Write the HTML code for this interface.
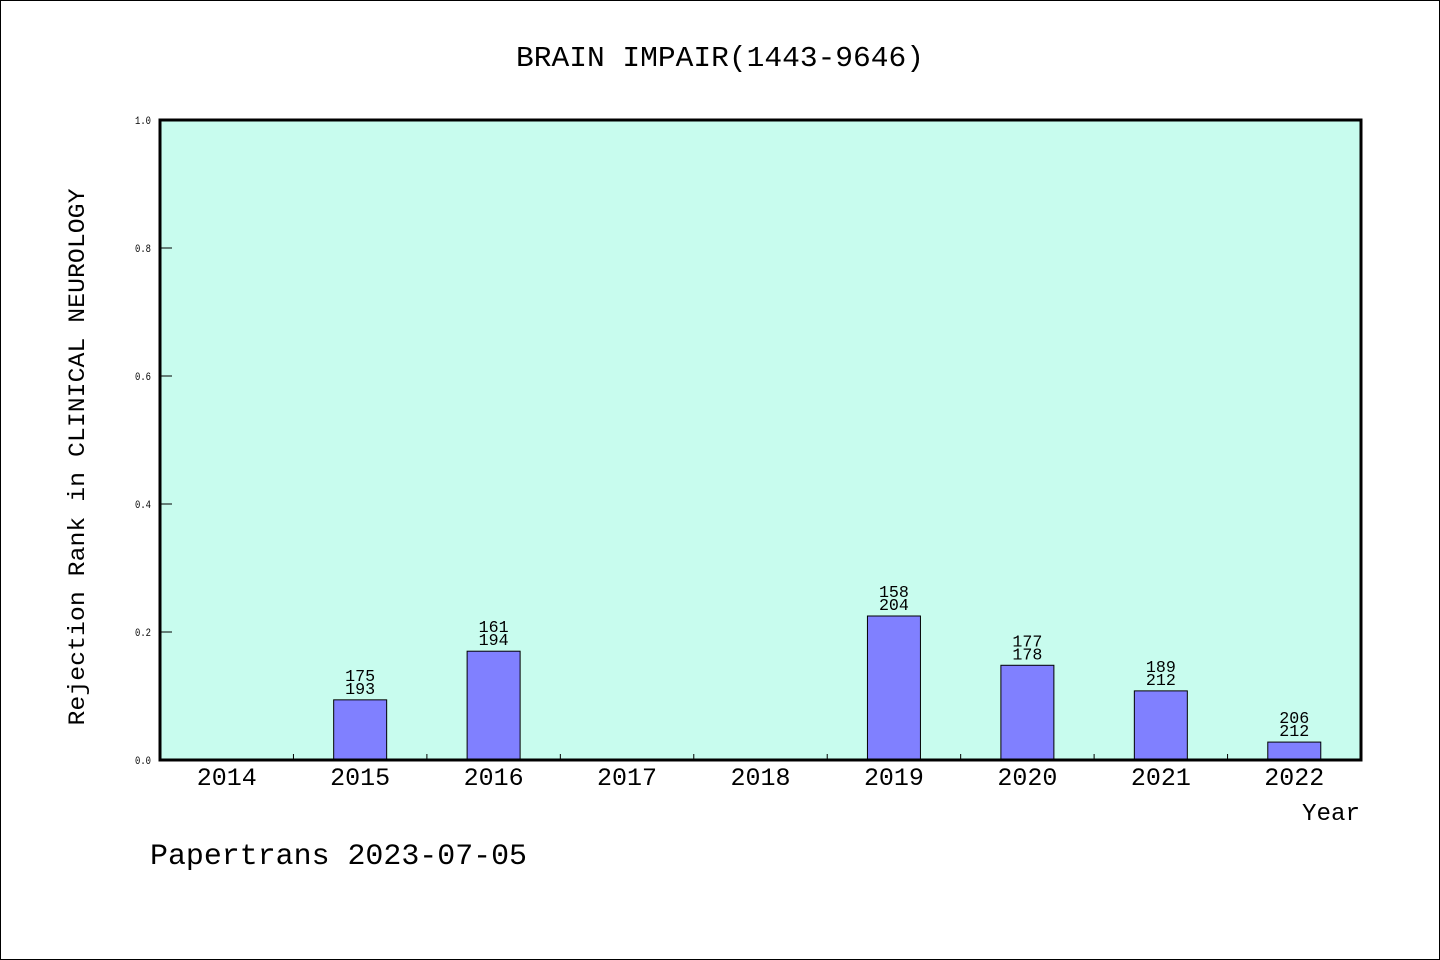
<!DOCTYPE html>
<html><head><meta charset="utf-8"><style>
html,body{margin:0;padding:0;background:#fff}
svg{display:block}
text{font-family:"Liberation Mono","WenQuanYi Zen Hei",monospace;fill:#000}
</style></head><body>
<svg id="chart" width="1440" height="960" viewBox="0 0 1440 960">
<rect x="0.5" y="0.5" width="1439" height="959" fill="#fff" stroke="#000"/>
<text x="720" y="66" text-anchor="middle" font-size="29" textLength="408" lengthAdjust="spacingAndGlyphs">BRAIN IMPAIR(1443-9646)</text>
<rect x="160" y="120" width="1201" height="640" fill="#c8fcee"/>
<g id="marks"></g>
<rect x="160" y="120" width="1201" height="640" fill="none" stroke="#000" stroke-width="3"/>
<text transform="translate(84,457) rotate(-90)" text-anchor="middle" font-size="23" textLength="537" lengthAdjust="spacingAndGlyphs">Rejection Rank in CLINICAL NEUROLOGY</text>
<text x="1360" y="820" text-anchor="end" font-size="24" textLength="58" lengthAdjust="spacingAndGlyphs">Year</text>
<text x="150" y="864" font-size="30" textLength="377" lengthAdjust="spacingAndGlyphs">Papertrans 2023-07-05</text>
</svg>
<script>
const categories=["2014","2015","2016","2017","2018","2019","2020","2021","2022"];
const values=[0,0.094,0.170,0,0,0.225,0.148,0.108,0.028];
const labelTop=["","175","161","","","158","177","189","206"];
const labelBottom=["","193","194","","","204","178","212","212"];
const yTicks=[0,0.2,0.4,0.6,0.8,1.0];
const yTickLabels=["0.0","0.2","0.4","0.6","0.8","1.0"];
const NS="http://www.w3.org/2000/svg";
const g=document.getElementById('marks');
const X0=160,W=1201,Y0=760,H=640;
const band=W/categories.length;
const xc=i=>X0+band*(i+0.5);
const y=v=>Y0-v*H;
function mk(t,a){const e=document.createElementNS(NS,t);for(const k in a)e.setAttribute(k,a[k]);g.appendChild(e);return e;}
yTicks.forEach((v,i)=>{
  const l=mk('line',{x1:X0,x2:X0+12,y1:y(v),y2:y(v),stroke:'#000','stroke-width':1});
  
  
  const t=mk('text',{x:X0-9,y:y(v)+4,'text-anchor':'end','font-size':11,textLength:16,lengthAdjust:'spacingAndGlyphs'});
  t.textContent=yTickLabels[i];
  
  
});
categories.forEach((c,i)=>{
  if(i>0){const l=mk('line',{x1:X0+band*i,x2:X0+band*i,y1:Y0,y2:Y0-6,stroke:'#000','stroke-width':1});
  
  }
  const t=mk('text',{x:xc(i),y:Y0+25,'text-anchor':'middle','font-size':25,textLength:60,lengthAdjust:'spacingAndGlyphs'});
  t.textContent=c;
  
  
  if(values[i]>0){
    const r=mk('rect',{x:xc(i)-26.5,y:y(values[i]),width:53,height:values[i]*H,fill:'#8080ff',stroke:'#000','stroke-width':1});
    
    
    const t1=mk('text',{x:xc(i),y:y(values[i])-19,'text-anchor':'middle','font-size':17,textLength:30,lengthAdjust:'spacingAndGlyphs'});
    t1.textContent=labelTop[i];
    
    
    const t2=mk('text',{x:xc(i),y:y(values[i])-6,'text-anchor':'middle','font-size':17,textLength:30,lengthAdjust:'spacingAndGlyphs'});
    t2.textContent=labelBottom[i];
    
    
  }
});
</script>
</body></html>
